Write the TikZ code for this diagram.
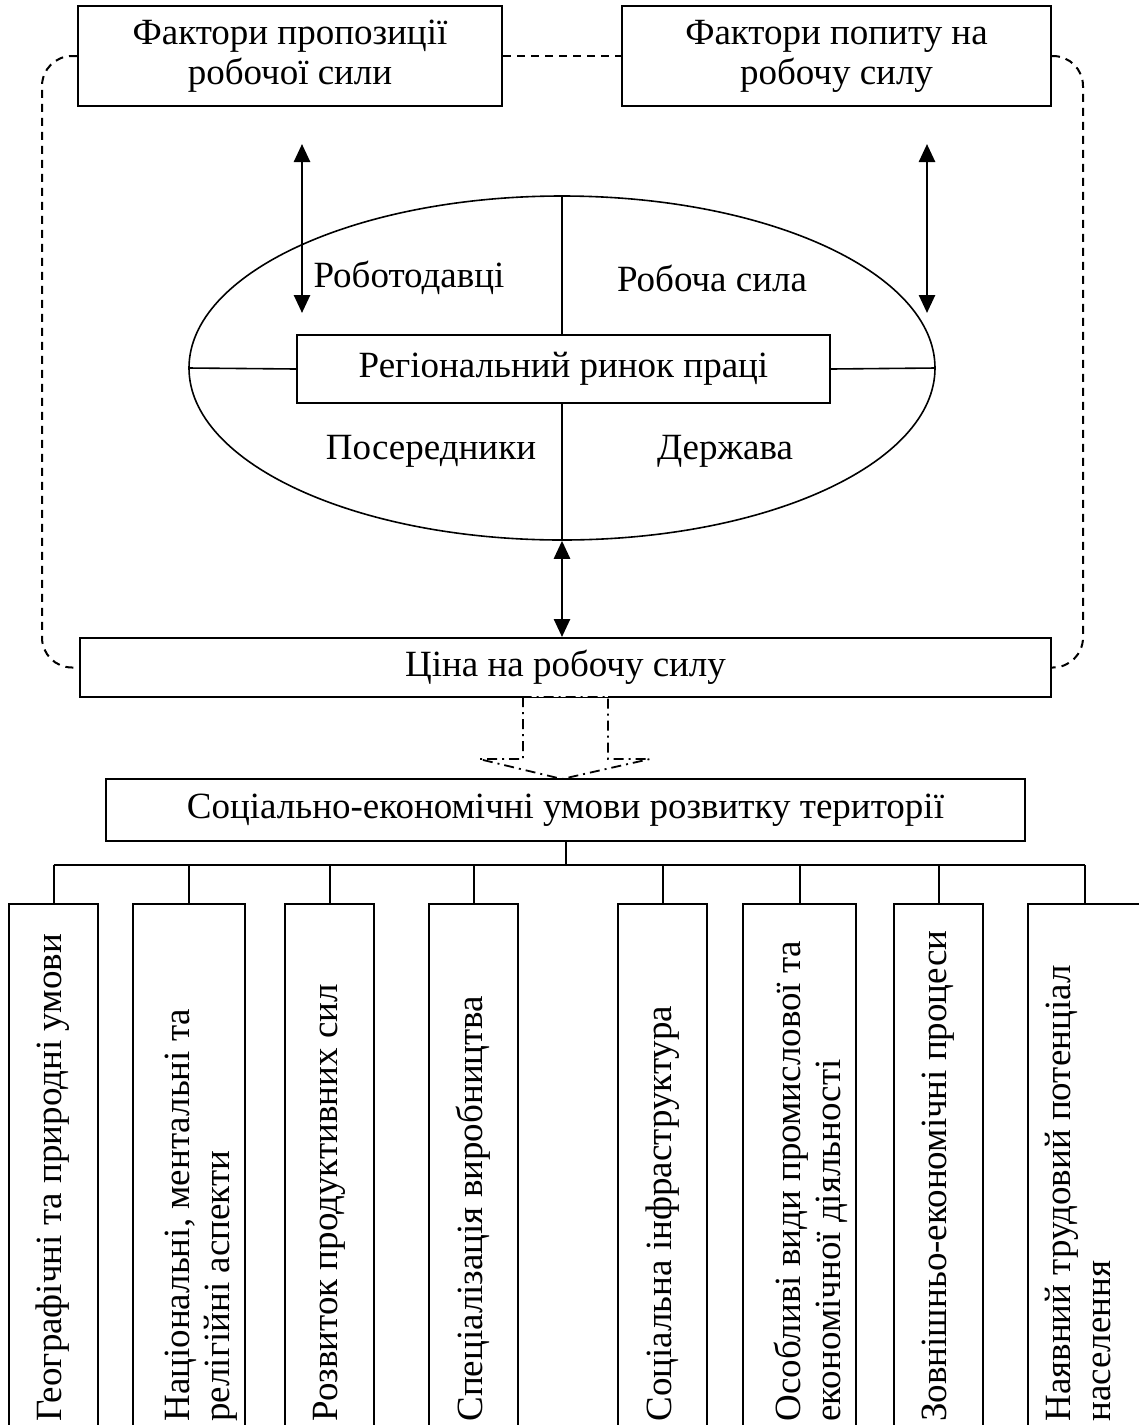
\documentclass[tikz,border=0pt]{standalone}
\usepackage{fontspec}
\setmainfont{Liberation Serif}
\usetikzlibrary{shapes.geometric,arrows.meta}
\begin{document}
\begin{tikzpicture}[x=0.5pt,y=-0.5pt,
  every node/.style={font=\fontsize{18.5}{20}\selectfont},
  box/.style={draw,line width=1pt,inner sep=0pt,align=center},
  vbox/.style={draw,line width=1pt,inner sep=0pt,minimum height=268.5pt,anchor=north},
  vtext/.style={rotate=90,anchor=west,inner sep=0pt,align=left},
  lbl/.style={inner sep=0pt},
  conn/.style={line width=1pt},
  dconn/.style={line width=1pt,dash pattern=on 4pt off 3pt,rounded corners=15pt},
  dbl/.style={line width=1.3pt,{Triangle[width=8pt,length=9pt]}-{Triangle[width=8pt,length=9pt]}},
  dashdot/.style={line width=0.9pt,dash pattern=on 5pt off 2.5pt on 1pt off 2.5pt}
]
\clip (0,0) rectangle (1139,1425);
\fill[white] (0,0) rectangle (1139,1425);

% top boxes
\node[box,minimum width=212pt,minimum height=50pt] (topL) at (290,56) {Фактори пропозиції\\робочої сили};
\node[box,minimum width=214.5pt,minimum height=50pt] (topR) at (836.5,56) {Фактори попиту на\\робочу силу};

% ellipse
\node[draw,ellipse,line width=0.8pt,minimum width=373pt,minimum height=172pt,inner sep=0pt] (ell) at (562,368) {};
\node[box,minimum width=266.5pt,minimum height=34pt] (cb) at (563.5,369) {Регіональний ринок праці};
\draw[line width=0.8pt] (ell.north) -- (ell.north |- cb.north);
\draw[line width=0.8pt] (ell.south |- cb.south) -- (ell.south);
\draw[line width=0.8pt] (ell.west) -- (cb.west);
\draw[line width=0.8pt] (cb.east) -- (ell.east);

\node[lbl] (rob) at (409,278) {Роботодавці};
\node[lbl] (rs) at (712,278) {Робоча сила};
\node[lbl] (pos) at (431,451) {Посередники};
\node[lbl] (der) at (725,451) {Держава};

% price box
\node[box,minimum width=485.5pt,minimum height=29.5pt] (price) at (565.5,667.5) {Ціна на робочу силу};

% double arrows
\coordinate (la1) at (302,144);
\coordinate (la2) at (302,313);
\coordinate (ra1) at (927,144);
\coordinate (ra2) at (927,313);
\draw[dbl] (la1) -- (la2);
\draw[dbl] (ra1) -- (ra2);
\draw[dbl] (ell.south) -- (ell.south |- price.north);

% dashed connectors
\coordinate (lx) at (42,0);
\coordinate (rx) at (1083,0);
\draw[dconn] (topL.east) -- (topR.west);
\draw[dconn] (topL.west) -- (topL.west -| lx) -- (price.west -| lx) -- (price.west);
\draw[dconn] (topR.east) -- (topR.east -| rx) -- (price.east -| rx) -- (price.east);

% social box
\node[box,minimum width=459.5pt,minimum height=31pt] (soc) at (565.5,810) {Соціально-економічні умови розвитку території};

% dash-dot block arrow
\fill[white] (523.5,695.5) -- (523.5,697) -- (607.5,697) -- (607.5,695.5) -- cycle;
\fill[white] (523,699) rectangle (608,759);
\draw[dashdot] (523,697) -- (523,759) -- (479,759) -- (562,779) -- (650,759) -- (608,759) -- (608,697) -- cycle;

% bottom boxes
\node[vbox,minimum width=44.5pt] (b1) at (53.5,903) {};
\node[vbox,minimum width=56pt] (b2) at (189,903) {};
\node[vbox,minimum width=44.5pt] (b3) at (329.5,903) {};
\node[vbox,minimum width=44.5pt] (b4) at (473.5,903) {};
\node[vbox,minimum width=44.5pt] (b5) at (662.5,903) {};
\node[vbox,minimum width=56.5pt] (b6) at (799.5,903) {};
\node[vbox,minimum width=44.5pt] (b7) at (938.5,903) {};
\node[vbox,minimum width=56.5pt] (b8) at (1084.5,903) {};

\node[vtext] (t1) at (53,1422) {Географічні та природні умови};
\node[vtext] (t2) at (201,1422) {Національні, ментальні та\\релігійні аспекти};
\node[vtext] (t3) at (329.5,1422) {Розвиток продуктивних сил};
\node[vtext] (t4) at (473.5,1422) {Спеціалізація виробництва};
\node[vtext] (t5) at (662.5,1422) {Соціальна інфраструктура};
\node[vtext] (t6) at (811,1422) {Особливі види промислової та\\економічної діяльності};
\node[vtext] (t7) at (938.5,1422) {Зовнішньо-економічні процеси};
\node[vtext] (t8) at (1078,1422) {Наявний трудовий потенціал\\населення};

% tree connectors
\coordinate (bar) at (0,865);
\draw[conn] (soc.south) -- (soc.south |- bar);
\draw[conn] (b1.north |- bar) -- (b8.north |- bar);
\foreach \b in {b1,b2,b3,b4,b5,b6,b7,b8}{
  \draw[conn] (\b.north) -- (\b.north |- bar);
}
\end{tikzpicture}
\end{document}
